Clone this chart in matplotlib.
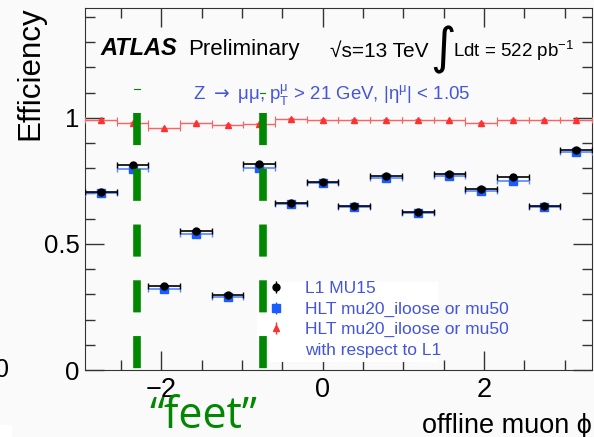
import numpy as np
import matplotlib
matplotlib.use("Agg")
import matplotlib.pyplot as plt
from matplotlib.lines import Line2D
from matplotlib.legend_handler import HandlerTuple
from matplotlib.patches import Rectangle
from matplotlib.ticker import MultipleLocator, FormatStrFormatter

# 16 phi bins of width pi/8, centred on k*pi/8
bin_index = list(range(-7, 9))
l1_eff = [0.704, 0.811, 0.333, 0.552, 0.299, 0.817, 0.661, 0.747,
          0.652, 0.771, 0.628, 0.776, 0.717, 0.765, 0.652, 0.873]
hlt_eff = [0.700, 0.796, 0.320, 0.540, 0.291, 0.800, 0.657, 0.742,
           0.647, 0.763, 0.624, 0.770, 0.709, 0.749, 0.646, 0.864]
hlt_wrt_l1 = [0.992, 0.981, 0.958, 0.979, 0.972, 0.976, 0.995, 0.992,
              0.992, 0.992, 0.992, 0.990, 0.981, 0.992, 0.992, 0.992]
feet_phi = [-2.30, -0.745]
feet_tick_y = [1.115, 1.099]

legend_labels = ["L1 MU15", "HLT mu20_iloose or mu50",
                 "HLT mu20_iloose or mu50", "with respect to L1"]

plt.rcParams["font.family"] = ["Liberation Sans", "DejaVu Sans"]

black, blue, red, green = "black", "#1a5cff", "#ff3030", "#008800"
txt_blue = "#4455dd"

bg = "#fafafa"
fig = plt.figure(figsize=(5.94, 4.37), dpi=100, facecolor=bg)
ax = fig.add_axes([0.1431, 0.1533, 0.8535, 0.8284], facecolor=bg)

w = np.pi / 8
x = np.array(bin_index) * w
xerr = w / 2

ax.errorbar(x, l1_eff, xerr=xerr, yerr=0.004, fmt="o", color=black,
            ms=5, lw=1.2, capsize=2.5, capthick=1, zorder=4)
ax.errorbar(x, hlt_eff, xerr=xerr, yerr=0.004, fmt="s", color=blue,
            ecolor="#5a86ff", ms=5.5, lw=1.2, capsize=2.5, capthick=1, zorder=3)
ax.errorbar(x, hlt_wrt_l1, xerr=xerr, yerr=0.002, fmt="^", color=red,
            ecolor="#ff6060", ms=4.5, lw=1.0, capsize=2.5, capthick=0.8, zorder=3)

ax.set_xlim(-15 * np.pi / 16, 17 * np.pi / 16)
ax.set_ylim(0, 1.435)

ax.xaxis.set_major_locator(MultipleLocator(2))
ax.xaxis.set_minor_locator(MultipleLocator(0.5))
ax.yaxis.set_major_locator(MultipleLocator(0.5))
ax.yaxis.set_minor_locator(MultipleLocator(0.1))
ax.yaxis.set_major_formatter(FormatStrFormatter("%g"))
ax.tick_params(which="both", direction="in", top=True, right=True,
               labelsize=18.5, color="#333333", pad=4)
ax.tick_params(axis="x", labelsize=19.5, pad=5)
ax.tick_params(which="major", length=14, width=1)
ax.tick_params(which="minor", length=7, width=1)
for s in ax.spines.values():
    s.set_color("#333333")

ax.text(-0.108, 1.005, "Efficiency", transform=ax.transAxes, rotation=90,
        fontsize=22.5, ha="center", va="top")
ax.set_xlabel("offline muon \u03d5", fontsize=19.5, loc="right", labelpad=7)

# annotation texts
ax.text(0.03, 0.87, "ATLAS", transform=ax.transAxes, fontsize=17,
        fontweight="bold", fontstyle="italic")
ax.text(0.203, 0.87, "Preliminary", transform=ax.transAxes, fontsize=16)
ax.text(0.484, 0.866, "\u221as=13 TeV", transform=ax.transAxes, fontsize=15)
ax.text(0.68, 0.848, r"$\int$", transform=ax.transAxes, fontsize=25)
ax.text(0.725, 0.866, r"Ldt = 522 pb$^{\mathregular{-1}}$", transform=ax.transAxes,
        fontsize=13.5)
ax.text(0.213, 0.745,
        "Z $\\rightarrow$ \u03bc\u03bc, p$_\\mathregular{T}^\\mathregular{\u03bc}$ > 21 GeV, "
        "|\u03b7$^\\mathregular{\u03bc}$| < 1.05",
        transform=ax.transAxes, fontsize=13.4, color=txt_blue)

# legend (white box, markers with short vertical error bars)
ax.add_patch(Rectangle((0.34, 0.022), 0.357, 0.22, transform=ax.transAxes,
                       facecolor="white", edgecolor="none", zorder=4.5))
vbar = dict(marker="|", ms=8, mew=1, ls="none")
handles = [
    (Line2D([], [], color=black, **vbar), Line2D([], [], color=black, marker="o", ms=5, ls="none")),
    (Line2D([], [], color=blue, **vbar), Line2D([], [], color=blue, marker="s", ms=5.5, ls="none")),
    (Line2D([], [], color=red, **vbar), Line2D([], [], color=red, marker="^", ms=4.5, ls="none")),
    Line2D([], [], ls="none"),
]
leg = ax.legend(handles=handles, labels=legend_labels, loc="upper left",
                bbox_to_anchor=(0.363, 0.245), frameon=False, fontsize=12.5,
                handlelength=0.8, handletextpad=1.25, borderpad=0,
                borderaxespad=0, labelspacing=0.3,
                handler_map={tuple: HandlerTuple(ndivide=1)})
for t in leg.get_texts():
    t.set_color(txt_blue)
leg.set_zorder(5)

# green "feet" markers
for xf, yt in zip(feet_phi, feet_tick_y):
    ax.plot([xf, xf], [1.02, -0.02], color=green, lw=5.5, solid_capstyle="butt",
            dashes=(4.2, 3.1), clip_on=False, zorder=6)
    ax.plot([xf - 0.035, xf + 0.035], [yt, yt], color=green, lw=0.8, zorder=6)
fig.text(0.342, 0.02, "\u201cfeet\u201d", fontsize=31, color=green,
         ha="center", family=["Open Sans", "DejaVu Sans"])
fig.text(0.004, 0.153, "0", fontsize=18, ha="center", va="center")
fig.add_artist(Rectangle((0, 0), 0.02, 0.027, transform=fig.transFigure,
                         facecolor="white", edgecolor="none"))

fig.savefig("out.png", dpi=100, facecolor=bg)
